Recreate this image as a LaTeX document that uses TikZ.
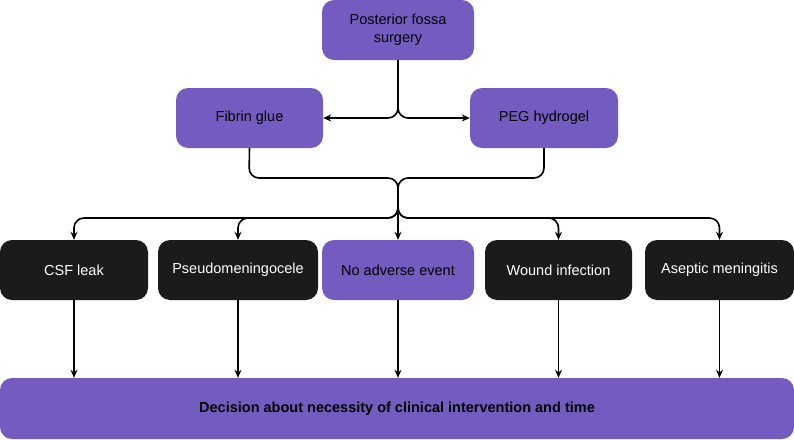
\documentclass[tikz,border=0pt]{standalone}
\usepackage{fontspec}
\setmainfont{Liberation Sans}
\usetikzlibrary{arrows.meta}
\definecolor{pur}{HTML}{735BBF}
\definecolor{blk}{HTML}{1C1B1A}
\begin{document}
\begin{tikzpicture}[x=1pt,y=-1pt,
 box/.style={draw=none,rounded corners=12pt,minimum height=60pt,align=center,font=\fontsize{14.5}{18}\selectfont,inner sep=2pt},
 pb/.style={box,fill=pur,text=black},
 bb/.style={box,fill=blk,text=white},
 ln/.style={line width=1.6pt,black},
 ar/.style={ln,-{Stealth[length=8pt,width=7pt]}},
 rc/.style={rounded corners=10pt}]
\useasboundingbox (0,0) rectangle (794,439);
\node[pb,minimum width=152pt] (top) at (398,30) {Posterior fossa\\surgery};
\node[pb,minimum width=147pt] (fg) at (249.5,118) {Fibrin glue};
\node[pb,minimum width=148pt] (peg) at (544,118) {PEG hydrogel};
\node[bb,minimum width=148pt] (csf) at (74,270) {CSF leak};
\node[bb,minimum width=160pt] (pm) at (238,270) {Pseudomeningocele};
\node[pb,minimum width=152pt] (no) at (398,270) {No adverse event};
\node[bb,minimum width=147pt] (wi) at (558.5,270) {Wound infection};
\node[bb,minimum width=149pt] (am) at (719.5,270) {Aseptic meningitis};
\node[pb,minimum width=794pt,minimum height=61pt,font=\fontsize{14.5}{18}\selectfont\bfseries] (dec) at (397,408.5) {Decision about necessity of clinical intervention and time};
\coordinate (j1) at (398,118);
\coordinate (j2) at (398,198);
\draw[ar,rc] (top.south) -- (j1) -- (fg.east);
\draw[ar,rc] (top.south) -- (j1) -- (peg.west);
\draw[ln,rc] (fg.south) -- (249,178) -- (398,178) -- (j2);
\draw[ln,rc] (peg.south) -- (544,178) -- (398,178) -- (j2);
\draw[ar] (j2) -- (no.north);
\foreach \n in {csf,pm,wi,am}{\draw[ar,rc] (j2) -- (398,218) -- (\n.north|-0,218) -- (\n.north);}
\foreach \n in {csf,pm,no,wi,am}{\draw[ar] (\n.south) -- (\n.south|-dec.north);}
\end{tikzpicture}
\end{document}
